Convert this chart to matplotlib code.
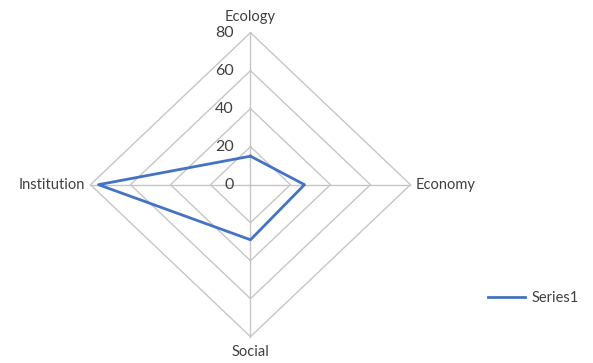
import numpy as np
import matplotlib
matplotlib.use("Agg")
import matplotlib.pyplot as plt

plt.rcParams['font.family'] = ['Lato', 'DejaVu Sans']

# data
categories = ["Ecology", "Economy", "Social", "Institution"]
values = [15, 27, 29, 76]
series_name = "Series1"
ring_levels = [0, 20, 40, 60, 80]

# directions of each spoke (clockwise from top)
angles = np.pi / 2 - np.arange(len(categories)) * 2 * np.pi / len(categories)
ux, uy = np.cos(angles), np.sin(angles)

fig = plt.figure(figsize=(5.93, 3.63), dpi=100)
ax = fig.add_axes([0.1526, 0.0725, 0.5396, 0.8375])
ax.set_xlim(-80, 80)
ax.set_ylim(-80, 80)
ax.axis('off')

grid_c = '#c6c6c6'
# rings
for lv in ring_levels[1:]:
    ax.plot(np.append(ux, ux[0]) * lv, np.append(uy, uy[0]) * lv,
            color=grid_c, lw=1.0, zorder=1, clip_on=False)
# spokes
rmax = ring_levels[-1]
for x, y in zip(ux, uy):
    ax.plot([0, x * rmax], [0, y * rmax], color=grid_c, lw=1.0, zorder=1, clip_on=False)

# ring labels
for lv in ring_levels:
    ax.annotate(str(lv), xy=(0, lv), xytext=(-12, 0), textcoords='offset points',
                ha='right', va='center', fontsize=11.5, color='#404040')

# category labels
offsets = [(0, 6), (4, 0), (0, -6), (-4, 0)]
aligns = [('center', 'bottom'), ('left', 'center'), ('center', 'top'), ('right', 'center')]
for cat, x, y, off, al in zip(categories, ux, uy, offsets, aligns):
    ax.annotate(cat, xy=(x * rmax, y * rmax), xytext=off, textcoords='offset points',
                ha=al[0], va=al[1], fontsize=10.5, color='#404040')

# series
vx = ux * np.array(values)
vy = uy * np.array(values)
ax.plot(np.append(vx, vx[0]), np.append(vy, vy[0]), color='#4472C4', lw=2,
        zorder=3, label=series_name, clip_on=False)

ax.legend(loc='center left', bbox_to_anchor=(0.80, 0.18), bbox_transform=fig.transFigure,
          frameon=False, fontsize=10.5, handlelength=2.6, handletextpad=0.4,
          labelcolor='#404040')

fig.savefig("out.png", dpi=100)
